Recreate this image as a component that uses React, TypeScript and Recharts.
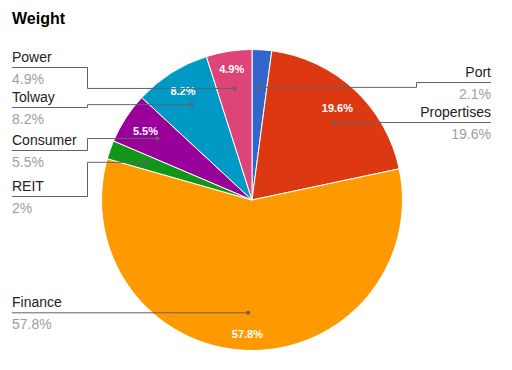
import React from 'react';
import { PieChart, Pie, Cell } from 'recharts';

// ---- data ----
const categories = ['Port', 'Propertises', 'Finance', 'REIT', 'Consumer', 'Tolway', 'Power'];
const weights = [2.1, 19.6, 57.8, 2, 5.5, 8.2, 4.9];
const sliceColors = ['#3366cc', '#dc3912', '#ff9900', '#109618', '#990099', '#0099c6', '#dd4477'];
const valueLabels = weights.map((w) => `${w}%`);
const title = 'Weight';

// ---- annotation layout (legend label lines, not marks) ----
const legendLineY = [82.5, 122.5, 313.3, 196.5, 150.5, 107.5, 67.5];
const slideDot = [false, true, false, false, false, false, false];

const W = 512;
const H = 370;
const CX = 252;
const CY = 200;
const R = 150.5;
const LEFT_X = 12;
const LEFT_ELBOW = 87.5;
const RIGHT_X = 491;
const RIGHT_ELBOW = 416.5;
const FONT = 'Arial, "Liberation Sans", sans-serif';
const LINE_COLOR = '#636363';

const pieData = categories.map((c, i) => ({ name: c, value: weights[i] }));

let measureCtx: CanvasRenderingContext2D | null = null;
function textWidth(s: string, font: string): number {
  if (!measureCtx) {
    const c = document.createElement('canvas');
    measureCtx = c.getContext('2d');
  }
  if (!measureCtx) return s.length * 6.5;
  measureCtx.font = font;
  return measureCtx.measureText(s).width;
}

const renderLabel = (props: any) => {
  const { cx, cy, midAngle, outerRadius, index } = props;
  const RAD = Math.PI / 180;
  const ux = Math.cos(-midAngle * RAD);
  const uy = Math.sin(-midAngle * RAD);
  const dr = outerRadius * 0.75;
  let dotX = cx + dr * ux;
  let dotY = cy + dr * uy;
  let lineY = legendLineY[index];
  if (slideDot[index]) {
    const off = lineY - cy;
    dotY = lineY;
    dotX = cx + Math.sign(ux) * Math.sqrt(Math.max(0, dr * dr - off * off));
  }
  if (Math.abs(dotY - lineY) < 1) lineY = dotY;
  const right = dotX >= cx;

  // inside percentage text
  let inner: React.ReactNode = null;
  if (weights[index] >= 4) {
    const txt = valueLabels[index];
    const w = textWidth(txt, `bold 11px ${FONT}`);
    const hw = w / 2;
    const hh = 5.5;
    const c1 = Math.sign(ux) * hw;
    const c2 = Math.sign(uy) * hh;
    const uc = ux * c1 + uy * c2;
    const RL = outerRadius * 0.934;
    const t = -uc + Math.sqrt(uc * uc - (c1 * c1 + c2 * c2) + RL * RL);
    const tx = cx + t * ux;
    const ty = cy + t * uy;
    inner = (
      <text
        x={tx}
        y={ty + 4}
        textAnchor="middle"
        fill="#ffffff"
        fontSize={11}
        fontWeight="bold"
        fontFamily={FONT}
      >
        {txt}
      </text>
    );
  }

  const elbow = right ? RIGHT_ELBOW : LEFT_ELBOW;
  const endX = right ? RIGHT_X : LEFT_X;
  const pts =
    lineY === dotY
      ? `${dotX},${dotY} ${endX},${lineY}`
      : `${dotX},${dotY} ${elbow},${dotY} ${elbow},${lineY} ${endX},${lineY}`;

  return (
    <g key={`lbl-${index}`}>
      {inner}
      <polyline points={pts} fill="none" stroke={LINE_COLOR} strokeWidth={1} />
      <circle cx={dotX} cy={dotY} r={2} fill={LINE_COLOR} />
      <text
        x={endX}
        y={lineY - 6}
        textAnchor={right ? 'end' : 'start'}
        fill="#222222"
        fontSize={14}
        fontFamily={FONT}
      >
        {categories[index]}
      </text>
      <text
        x={endX}
        y={lineY + 16}
        textAnchor={right ? 'end' : 'start'}
        fill="#9e9e9e"
        fontSize={14}
        fontFamily={FONT}
      >
        {valueLabels[index]}
      </text>
    </g>
  );
};

export default function App() {
  return (
    <div style={{ position: 'absolute', left: 0, top: 0, width: W, height: H, background: '#ffffff' }}>
      <svg width={W} height={40} style={{ position: 'absolute', left: 0, top: 0 }}>
        <text x={12} y={24} fontSize={16} fontWeight="bold" fontFamily={FONT} fill="#000000">
          {title}
        </text>
      </svg>
      <div style={{ position: 'absolute', left: 0, top: 0 }}>
        <PieChart width={W} height={H} margin={{ top: 0, right: 0, bottom: 0, left: 0 }}>
          <Pie
            data={pieData}
            dataKey="value"
            nameKey="name"
            cx={CX}
            cy={CY}
            outerRadius={R}
            innerRadius={0}
            startAngle={90}
            endAngle={-270}
            stroke="#ffffff"
            strokeWidth={1}
            label={renderLabel}
            labelLine={false}
            isAnimationActive={false}
          >
            {pieData.map((d, i) => (
              <Cell key={d.name} fill={sliceColors[i]} />
            ))}
          </Pie>
        </PieChart>
      </div>
    </div>
  );
}
